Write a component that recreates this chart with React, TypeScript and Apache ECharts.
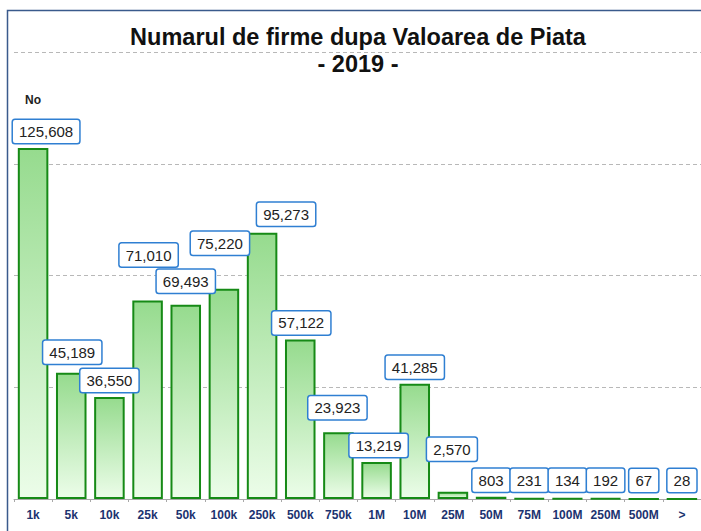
import React, { useEffect, useRef } from "react";
import * as echarts from "echarts";

const categories = ["1k", "5k", "10k", "25k", "50k", "100k", "250k", "500k", "750k", "1M", "10M", "25M", "50M", "75M", "100M", "250M", "500M", ">"];
const firmCounts = [125608, 45189, 36550, 71010, 69493, 75220, 95273, 57122, 23923, 13219, 41285, 2570, 803, 231, 134, 192, 67, 28];
const titleLines = ["Numarul de firme dupa Valoarea de Piata", "- 2019 -"];
const yAxisCaption = "No";

// label placement tweaks (dx, dy) mimicking the reference's de-overlapped labels
const labelShift: [number, number][] = [
  [13, 0], [1, -4], [0, 0], [1, -29], [0, -7], [-4, -29], [24, -2], [1, 0], [-1, -8],
  [2, 0], [0, 0], [-1, -26], [0, 0], [0, -1], [0, -1], [0, -1], [0, -1], [0, -1],
];

export default function App() {
  const ref = useRef<HTMLDivElement>(null);
  useEffect(() => {
    const chart = echarts.init(ref.current!, null, { renderer: "svg" });
    const font = "'Liberation Sans', Arial, sans-serif";
    chart.setOption({
      animation: false,
      backgroundColor: "#ffffff",
      textStyle: { fontFamily: font },
      title: {
        text: titleLines.join("\n"),
        left: 353,
        textAlign: "center",
        top: 18,
        textStyle: { fontSize: 23.5, fontWeight: "bold", color: "#111111", lineHeight: 27, fontFamily: font },
      },
      graphic: [
        {
          type: "rect",
          shape: { x: 7.5, y: 10.5, width: 800, height: 600 },
          style: { fill: "none", stroke: "#3a5a8c", lineWidth: 1.5 },
          silent: true,
        },
        {
          type: "text",
          x: 25,
          y: 99.5,
          style: { text: yAxisCaption, fontSize: 12, fontWeight: "bold", fill: "#222222", fontFamily: font, textVerticalAlign: "middle" },
        },
      ],
      grid: { left: 14, right: -4.5, top: 52, bottom: 32 },
      xAxis: {
        type: "category",
        data: categories,
        axisLine: { show: true, lineStyle: { color: "#a8a8a8", width: 1 } },
        axisTick: { show: true, length: 3, lineStyle: { color: "#a8a8a8" } },
        axisLabel: { interval: 0, hideOverlap: false, margin: 10, fontSize: 12, fontWeight: "bold", color: "#1c3370", fontFamily: font },
      },
      yAxis: {
        type: "value",
        min: 0,
        max: 160000,
        interval: 40000,
        axisLabel: { show: false },
        axisLine: { show: false },
        axisTick: { show: false },
        splitLine: { show: true, lineStyle: { color: "#b8b8b8", type: [4, 3], width: 1 } },
      },
      series: [
        {
          type: "bar",
          barCategoryGap: "20%",
          data: firmCounts.map((v, i) => ({
            value: v,
            label: { offset: labelShift[i] },
          })),
          itemStyle: {
            color: new echarts.graphic.LinearGradient(0, 0, 0, 1, [
              { offset: 0, color: "#96db8e" },
              { offset: 1, color: "#ecfde9" },
            ]),
            borderColor: "#168a16",
            borderWidth: 2,
          },
          label: {
            show: true,
            position: "top",
            distance: 5,
            formatter: (p: any) => Number(p.value).toLocaleString("en-US"),
            fontSize: 15,
            lineHeight: 17,
            color: "#222222",
            fontFamily: font,
            backgroundColor: "#ffffff",
            borderColor: "#2f7fd2",
            borderWidth: 1.5,
            borderRadius: 2,
            padding: [3, 6],
          },
        },
      ],
    });
    return () => chart.dispose();
  }, []);
  return <div ref={ref} style={{ position: "fixed", left: 0, top: 0, width: 701, height: 531 }} />;
}
